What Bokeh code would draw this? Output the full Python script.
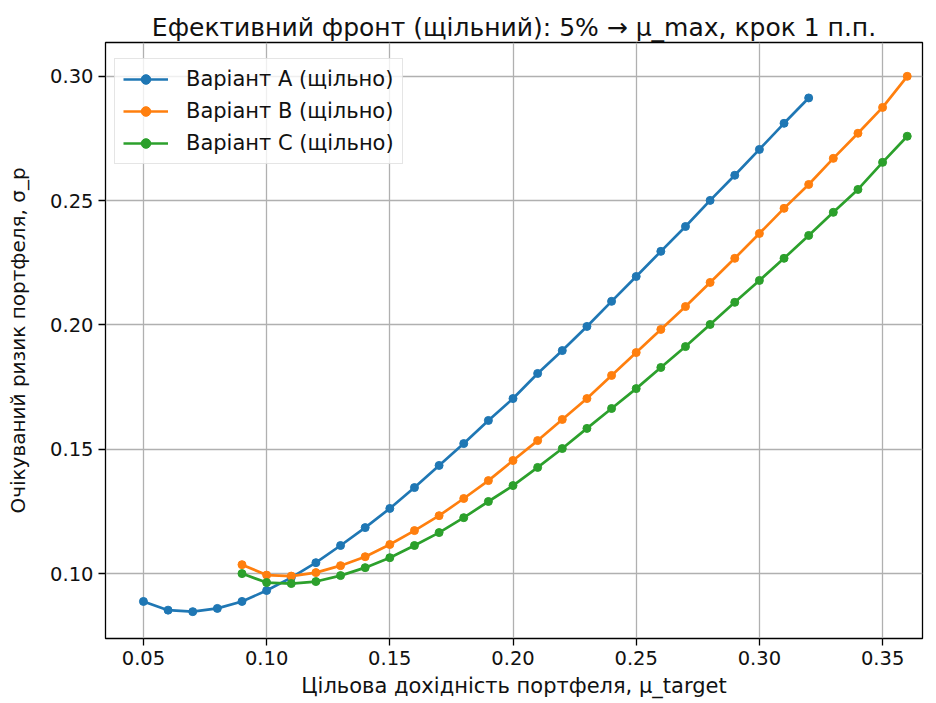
from bokeh.plotting import figure
from bokeh.models import FixedTicker, PrintfTickFormatter, Range1d, Legend, LegendItem
from bokeh.embed import file_html
from bokeh.resources import INLINE

x_a = [0.05, 0.06, 0.07, 0.08, 0.09, 0.10, 0.11, 0.12, 0.13, 0.14, 0.15, 0.16, 0.17, 0.18,
       0.19, 0.20, 0.21, 0.22, 0.23, 0.24, 0.25, 0.26, 0.27, 0.28, 0.29, 0.30, 0.31, 0.32]
y_a = [0.0888, 0.0853, 0.0847, 0.0860, 0.0888, 0.0932, 0.0984, 0.1044, 0.1113, 0.1185,
       0.1262, 0.1346, 0.1435, 0.1523, 0.1616, 0.1704, 0.1805, 0.1897, 0.1994, 0.2095,
       0.2195, 0.2296, 0.2396, 0.2501, 0.2602, 0.2706, 0.2811, 0.2913]

x_bc = [0.09, 0.10, 0.11, 0.12, 0.13, 0.14, 0.15, 0.16, 0.17, 0.18, 0.19, 0.20, 0.21, 0.22,
        0.23, 0.24, 0.25, 0.26, 0.27, 0.28, 0.29, 0.30, 0.31, 0.32, 0.33, 0.34, 0.35, 0.36]
y_b = [0.1036, 0.0994, 0.0990, 0.1004, 0.1032, 0.1068, 0.1117, 0.1173, 0.1233, 0.1302,
       0.1374, 0.1455, 0.1535, 0.1620, 0.1704, 0.1797, 0.1889, 0.1982, 0.2074, 0.2171,
       0.2268, 0.2368, 0.2469, 0.2565, 0.2670, 0.2771, 0.2875, 0.3000]
y_c = [0.1000, 0.0964, 0.0960, 0.0968, 0.0992, 0.1024, 0.1064, 0.1113, 0.1165, 0.1225,
       0.1290, 0.1354, 0.1427, 0.1503, 0.1584, 0.1664, 0.1744, 0.1829, 0.1913, 0.2002,
       0.2091, 0.2179, 0.2268, 0.2360, 0.2453, 0.2545, 0.2654, 0.2759]

labels = ["Варіант A (щільно)", "Варіант B (щільно)", "Варіант C (щільно)"]
colors = ["#1f77b4", "#ff7f0e", "#2ca02c"]
x_ticks = [0.05, 0.10, 0.15, 0.20, 0.25, 0.30, 0.35]
y_ticks = [0.10, 0.15, 0.20, 0.25, 0.30]

FONT = "DejaVu Sans"
TXT = "#111111"

p = figure(width=936, height=703, output_backend="svg", toolbar_location=None,
           x_range=Range1d(0.0346, 0.3662), y_range=Range1d(0.0739, 0.3136),
           min_border_left=105, min_border_right=14, min_border_top=42, min_border_bottom=65,
           title="Ефективний фронт (щільний): 5% → μ_max, крок 1 п.п.")

p.title.text_font = FONT
p.title.text_font_size = "25px"
p.title.text_font_style = "normal"
p.title.align = "center"
p.title.text_color = TXT
p.title.standoff = 2

p.outline_line_color = "#000000"
p.outline_line_width = 1.3
p.background_fill_color = "white"
p.border_fill_color = "white"

for ax in (p.xaxis[0], p.yaxis[0]):
    ax.axis_line_color = None
    ax.major_tick_in = 0
    ax.major_tick_out = 7
    ax.major_tick_line_color = "#000000"
    ax.major_tick_line_width = 1.3
    ax.minor_tick_line_color = None
    ax.major_label_text_font = FONT
    ax.major_label_text_font_size = "19.5px"
    ax.major_label_text_color = TXT
    ax.major_label_standoff = 5
    ax.axis_label_text_font = FONT
    ax.axis_label_text_font_style = "normal"
    ax.axis_label_text_color = TXT
    ax.formatter = PrintfTickFormatter(format="%.2f")

p.xaxis[0].axis_label_text_font_size = "21px"
p.yaxis[0].axis_label_text_font_size = "20px"
p.xaxis[0].axis_label_standoff = 6
p.yaxis[0].axis_label_standoff = 17

p.xaxis[0].ticker = FixedTicker(ticks=x_ticks)
p.yaxis[0].ticker = FixedTicker(ticks=y_ticks)
p.xaxis[0].axis_label = "Цільова дохідність портфеля, μ_target"
p.yaxis[0].axis_label = "Очікуваний ризик портфеля, σ_p"

p.grid.grid_line_color = "#b0b0b0"
p.grid.grid_line_width = 1.3

items = []
for xs, ys, lab, col in [(x_a, y_a, labels[0], colors[0]),
                         (x_bc, y_b, labels[1], colors[1]),
                         (x_bc, y_c, labels[2], colors[2])]:
    r1 = p.line(xs, ys, line_color=col, line_width=2.7)
    r2 = p.scatter(xs, ys, size=8, fill_color=col, line_color=col, marker="circle")
    items.append(LegendItem(label=lab, renderers=[r1, r2]))

legend = Legend(items=items, location=(9, 474))
legend.label_text_font = FONT
legend.label_text_font_size = "21px"
legend.label_text_color = TXT
legend.border_line_color = "#cccccc"
legend.border_line_width = 1.3
legend.background_fill_alpha = 0.8
legend.glyph_width = 45
legend.glyph_height = 24
legend.spacing = 8
legend.padding = 8
legend.margin = 0
legend.label_standoff = 18
p.add_layout(legend, "center")

open("out.html", "w").write(file_html(p, INLINE))
